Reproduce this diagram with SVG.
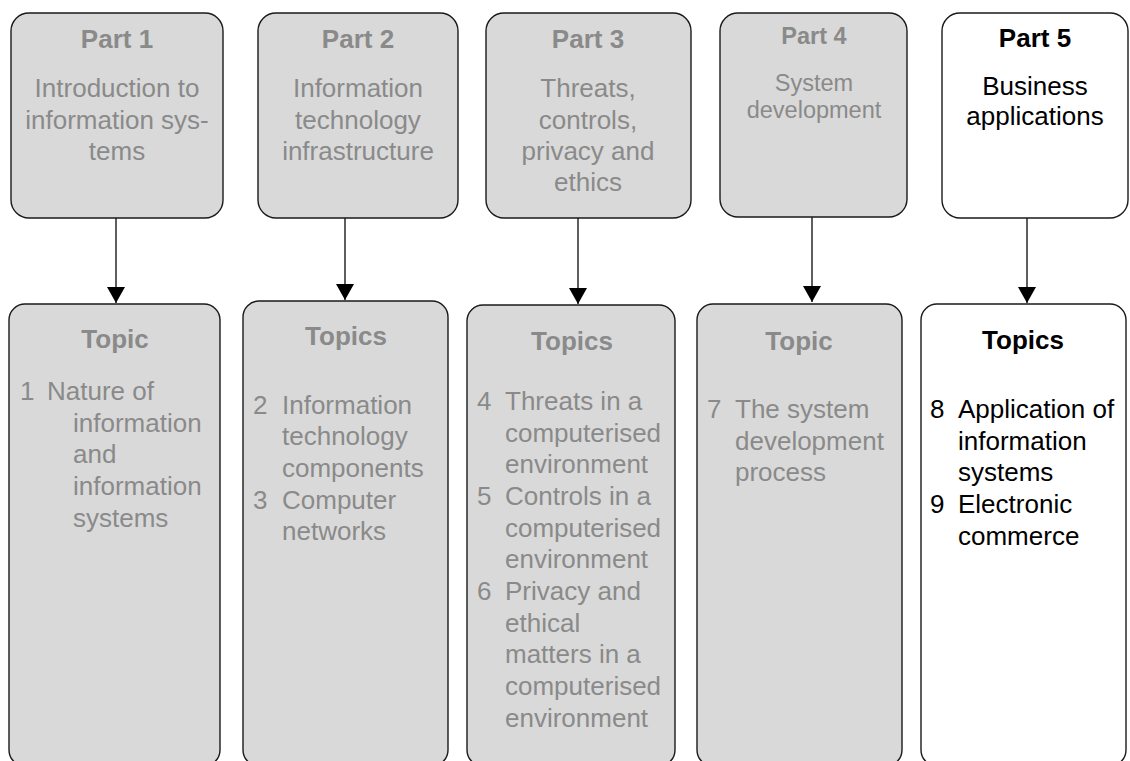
<svg xmlns="http://www.w3.org/2000/svg" width="1130" height="761" viewBox="0 0 1130 761">
<defs>
<style>
.box{fill:#d9d9d9;stroke:#1a1a1a;stroke-width:1.4}
.wbox{fill:#ffffff;stroke:#1a1a1a;stroke-width:1.4}
text{font-family:"Liberation Sans",Arial,sans-serif;font-size:26px;fill:#8a8a8a}
.t{font-weight:bold;text-anchor:middle}
.c{text-anchor:middle}
.dk{fill:#000000}
.sm{font-size:23.5px}
.conn{stroke:#1a1a1a;stroke-width:1.4;fill:none}
</style>
<marker id="ah" markerUnits="userSpaceOnUse" markerWidth="16" markerHeight="18" viewBox="0 0 16 18" refX="16" refY="9" orient="auto">
<path d="M0,0 L16,9 L0,18 Z" fill="#000"/>
</marker>
</defs>
<rect width="1130" height="761" fill="#ffffff"/>

<g id="connectors">
<line class="conn" x1="116" y1="218" x2="116" y2="303" marker-end="url(#ah)"/>
<line class="conn" x1="345" y1="218" x2="345" y2="300" marker-end="url(#ah)"/>
<line class="conn" x1="578" y1="218" x2="578" y2="304" marker-end="url(#ah)"/>
<line class="conn" x1="812" y1="217" x2="812" y2="302" marker-end="url(#ah)"/>
<line class="conn" x1="1027" y1="218" x2="1027" y2="303" marker-end="url(#ah)"/>
</g>

<g id="part1">
<rect class="box" x="11" y="13" width="212" height="205" rx="18"/>
<text class="t" x="117" y="48">Part 1</text>
<text class="c" x="117" y="97">Introduction to</text>
<text class="c" x="117" y="128.5">information sys-</text>
<text class="c" x="117" y="160">tems</text>
</g>

<g id="part2">
<rect class="box" x="258" y="13" width="200" height="205" rx="18"/>
<text class="t" x="358" y="48">Part 2</text>
<text class="c" x="358" y="97">Information</text>
<text class="c" x="358" y="128.5">technology</text>
<text class="c" x="358" y="160">infrastructure</text>
</g>

<g id="part3">
<rect class="box" x="486" y="13" width="205" height="205" rx="18"/>
<text class="t" x="588" y="48">Part 3</text>
<text class="c" x="588" y="97">Threats,</text>
<text class="c" x="588" y="128.5">controls,</text>
<text class="c" x="588" y="160">privacy and</text>
<text class="c" x="588" y="191">ethics</text>
</g>

<g id="part4">
<rect class="box" x="720" y="13" width="187" height="204" rx="18"/>
<text class="t sm" x="814" y="44">Part 4</text>
<text class="c sm" x="814" y="91">System</text>
<text class="c sm" x="814" y="118">development</text>
</g>

<g id="part5">
<rect class="wbox" x="942" y="13" width="186" height="205" rx="18"/>
<text class="t dk" x="1035" y="47">Part 5</text>
<text class="c dk" x="1035" y="95">Business</text>
<text class="c dk" x="1035" y="125">applications</text>
</g>

<g id="topics1">
<rect class="box" x="9" y="304" width="211" height="462" rx="16"/>
<text class="t" x="115" y="348">Topic</text>
<text x="20" y="400">1</text>
<text x="47" y="400">Nature of</text>
<text x="73" y="431.7">information</text>
<text x="73" y="463.3">and</text>
<text x="73" y="495">information</text>
<text x="73" y="526.7">systems</text>
</g>

<g id="topics2">
<rect class="box" x="243" y="301" width="205" height="465" rx="16"/>
<text class="t" x="346" y="345">Topics</text>
<text x="253" y="413.5">2</text>
<text x="282" y="413.5">Information</text>
<text x="282" y="445.2">technology</text>
<text x="282" y="476.8">components</text>
<text x="253" y="508.5">3</text>
<text x="282" y="508.5">Computer</text>
<text x="282" y="540.2">networks</text>
</g>

<g id="topics3">
<rect class="box" x="467" y="305" width="208" height="461" rx="16"/>
<text class="t" x="572" y="350">Topics</text>
<text x="477" y="410">4</text>
<text x="505" y="410">Threats in a</text>
<text x="505" y="441.7">computerised</text>
<text x="505" y="473.3">environment</text>
<text x="477" y="505">5</text>
<text x="505" y="505">Controls in a</text>
<text x="505" y="536.7">computerised</text>
<text x="505" y="568.3">environment</text>
<text x="477" y="600">6</text>
<text x="505" y="600">Privacy and</text>
<text x="505" y="631.7">ethical</text>
<text x="505" y="663.3">matters in a</text>
<text x="505" y="695">computerised</text>
<text x="505" y="726.7">environment</text>
</g>

<g id="topics4">
<rect class="box" x="697" y="304" width="205" height="462" rx="16"/>
<text class="t" x="799" y="350">Topic</text>
<text x="707" y="418">7</text>
<text x="735" y="418">The system</text>
<text x="735" y="449.5">development</text>
<text x="735" y="481">process</text>
</g>

<g id="topics5">
<rect class="wbox" x="921" y="304" width="205" height="462" rx="16"/>
<text class="t dk" x="1023" y="349">Topics</text>
<text class="dk" x="930" y="418">8</text>
<text class="dk" x="958" y="418">Application of</text>
<text class="dk" x="958" y="449.7">information</text>
<text class="dk" x="958" y="481.3">systems</text>
<text class="dk" x="930" y="513">9</text>
<text class="dk" x="958" y="513">Electronic</text>
<text class="dk" x="958" y="544.7">commerce</text>
</g>
</svg>
